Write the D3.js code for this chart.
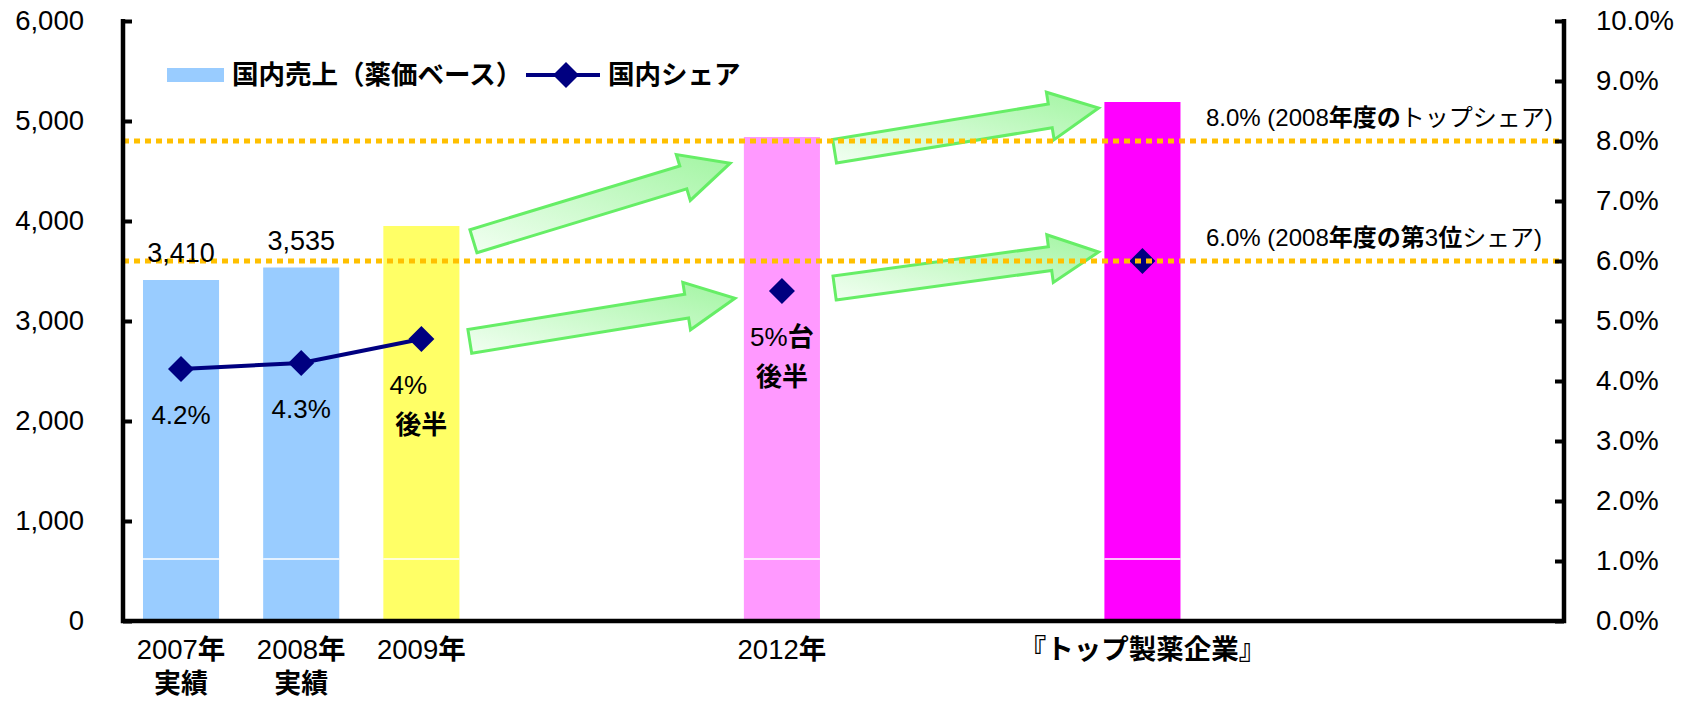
<!DOCTYPE html>
<html>
<head>
<meta charset="utf-8">
<script src="https://cdn.jsdelivr.net/npm/d3@7"></script>
<style>
body { margin: 0; background: #fff; }
text { font-family: "Liberation Sans", Arial, "Noto Sans CJK JP", sans-serif; fill: #000; }
</style>
</head>
<body>
<script>
(function(){

//chart values
var categories = ["2007年", "2008年", "2009年", "2012年", "『トップ製薬企業』"];
var subLabels = ["実績", "実績", "", "", ""];
var slotIndex = [0, 1, 2, 5, 8]; //position of each category among the 12 slots
var slotCount = 12;
var sales = [3410, 3535, 3950, 4840, 5190];
var salesLabels = ["3,410", "3,535", "", "", ""];
var barColors = ["#99CCFF", "#99CCFF", "#FFFF66", "#FF99FF", "#FF00FF"];
var share = [4.2, 4.3, 4.7, 5.5, 6.0];
var shareLabels = [["4.2%"], ["4.3%"], ["4%\u3000", "後半"], ["5%台", "後半"], []];
var linkedCount = 3; //only the first three points are joined
var salesTicks = [0, 1000, 2000, 3000, 4000, 5000, 6000];
var shareTicks = [0, 1, 2, 3, 4, 5, 6, 7, 8, 9, 10];
var splitValue = 620;
var refShare = [8.0, 6.0];
var refLabels = [
	[["8.0% (2008", false], ["年度の", true], ["トップシェア)", false]],
	[["6.0% (2008", false], ["年度の", true], ["第", true], ["3", false], ["位", true], ["シェア)", false]]
];
//arrows: [slot position, share %]
var arrows = [
	{from: [2.92, 6.33], to: [5.06, 7.63]},
	{from: [2.89, 4.66], to: [5.10, 5.38]},
	{from: [5.93, 7.83], to: [8.13, 8.55]},
	{from: [5.93, 5.55], to: [8.13, 6.15]}
];

var width = 1690, height = 701;
var left = 123, right = 1564, top = 21, bottom = 621;

var svg = d3.select("body").append("svg")
	.attr("width", width)
	.attr("height", height);

//scales
var x = d3.scaleBand()
	.domain(d3.range(slotCount))
	.range([121, 1563])
	.paddingInner(0.367)
	.paddingOuter(0.183);
var xSlot = d3.scaleLinear().domain([0, slotCount]).range([left, 1563]);
var y = d3.scaleLinear().domain([0, 6000]).range([bottom, top]);
var y2 = d3.scaleLinear().domain([0, 10]).range([bottom, top]);

function cx(i){ return x(slotIndex[i]) + x.bandwidth() / 2; }

//gradient for arrows
var grad = svg.append("defs").append("linearGradient")
	.attr("id", "arrowFill")
	.attr("x1", 0).attr("y1", 1).attr("x2", 1).attr("y2", 0);
grad.append("stop").attr("offset", "0%").attr("stop-color", "#f2fff2");
grad.append("stop").attr("offset", "100%").attr("stop-color", "#a2f5a2");

//bars
svg.selectAll(".bar")
	.data(sales)
	.enter()
	.append("rect")
	.attr("class", "bar")
	.attr("x", function(d, i){ return x(slotIndex[i]); })
	.attr("width", x.bandwidth())
	.attr("y", function(d){ return y(d); })
	.attr("height", function(d){ return y(0) - y(d); })
	.style("fill", function(d, i){ return barColors[i]; });

//thin white split line inside bars
svg.selectAll(".split")
	.data(sales)
	.enter()
	.append("line")
	.attr("x1", function(d, i){ return x(slotIndex[i]); })
	.attr("x2", function(d, i){ return x(slotIndex[i]) + x.bandwidth(); })
	.attr("y1", y(splitValue))
	.attr("y2", y(splitValue))
	.style("stroke", "#fff")
	.style("stroke-width", 1.5);

//arrows
function arrowPath(a){
	var t = [xSlot(a.from[0]), y2(a.from[1])],
		p = [xSlot(a.to[0]), y2(a.to[1])];
	var dx = p[0] - t[0], dy = p[1] - t[1], len = Math.sqrt(dx*dx + dy*dy);
	var ux = dx / len, uy = dy / len, nx = -uy, ny = ux;
	var sw = 12, hw = 24, hl = 49;
	var b = [p[0] - ux*hl, p[1] - uy*hl];
	var pts = [
		[t[0] + nx*sw, t[1] + ny*sw],
		[b[0] + nx*sw, b[1] + ny*sw],
		[b[0] + nx*hw, b[1] + ny*hw],
		p,
		[b[0] - nx*hw, b[1] - ny*hw],
		[b[0] - nx*sw, b[1] - ny*sw],
		[t[0] - nx*sw, t[1] - ny*sw]
	];
	return "M" + pts.map(function(q){ return q[0].toFixed(1) + "," + q[1].toFixed(1); }).join("L") + "Z";
}
svg.selectAll(".arrow")
	.data(arrows)
	.enter()
	.append("path")
	.attr("class", "arrow")
	.attr("d", arrowPath)
	.style("fill", "url(#arrowFill)")
	.style("stroke", "#66EE66")
	.style("stroke-width", 3)
	.style("stroke-linejoin", "miter");

//share line
var diamond = "M0,-13L13,0L0,13L-13,0Z";
var line = d3.line()
	.x(function(d, i){ return cx(i); })
	.y(function(d){ return y2(d); });
svg.append("path")
	.datum(share.slice(0, linkedCount))
	.attr("d", line)
	.style("fill", "none")
	.style("stroke", "#000080")
	.style("stroke-width", 4);
svg.selectAll(".marker")
	.data(share)
	.enter()
	.append("path")
	.attr("class", "marker")
	.attr("d", diamond)
	.attr("transform", function(d, i){ return "translate(" + cx(i) + "," + y2(d) + ")"; })
	.style("fill", "#000080");

//reference dotted lines
svg.selectAll(".ref")
	.data(refShare)
	.enter()
	.append("line")
	.attr("x1", left)
	.attr("x2", right)
	.attr("y1", function(d){ return y2(d); })
	.attr("y2", function(d){ return y2(d); })
	.style("stroke", "#FFC000")
	.style("stroke-width", 5)
	.style("stroke-dasharray", "6,5");

//mixed weight text helper: digits and signs regular, the rest bold
function mixed(sel, str, size){
	var parts = str.match(/[0-9.,% ()]+|[^0-9.,% ()]+/g) || [];
	parts.forEach(function(p){
		sel.append("tspan")
			.text(p)
			.style("font-weight", /[0-9]/.test(p) || /^[.,% ()]+$/.test(p) ? "normal" : "bold");
	});
	sel.style("font-size", size + "px");
}

//reference labels
svg.selectAll(".refLabel")
	.data(refShare)
	.enter()
	.append("text")
	.attr("class", "refLabel")
	.attr("x", 1206)
	.attr("y", function(d){ return y2(d) - 23; })
	.attr("dy", "0.35em")
	.style("font-size", "24px")
	.each(function(d, i){
		var t = d3.select(this);
		refLabels[i].forEach(function(seg){
			t.append("tspan").text(seg[0]).style("font-weight", seg[1] ? "bold" : "normal");
		});
	});

//sales value labels
svg.selectAll(".valLabel")
	.data(sales)
	.enter()
	.append("text")
	.attr("x", function(d, i){ return cx(i); })
	.attr("y", function(d){ return y(d) - 27; })
	.attr("dy", "0.35em")
	.attr("text-anchor", "middle")
	.style("font-size", "27px")
	.text(function(d, i){ return salesLabels[i]; });

//share labels
share.forEach(function(d, i){
	shareLabels[i].forEach(function(s, k){
		var t = svg.append("text")
			.attr("x", cx(i))
			.attr("y", y2(d) + 46 + k * 40)
			.attr("dy", "0.35em")
			.attr("text-anchor", "middle");
		mixed(t, s, 26);
	});
});

//axes
var yAxis = d3.axisLeft(y)
	.tickValues(salesTicks)
	.tickSize(-9)
	.tickPadding(39)
	.tickFormat(d3.format(","));
var gy = svg.append("g")
	.attr("transform", "translate(" + left + ",0)")
	.call(yAxis);
var y2Axis = d3.axisRight(y2)
	.tickValues(shareTicks)
	.tickSize(-9)
	.tickPadding(32)
	.tickFormat(function(d){ return d.toFixed(1) + "%"; });
var gy2 = svg.append("g")
	.attr("transform", "translate(" + right + ",0)")
	.call(y2Axis);
[gy, gy2].forEach(function(g){
	g.select(".domain").remove();
	g.selectAll(".tick line").style("stroke", "#000").style("stroke-width", 4);
	g.selectAll(".tick text")
		.style("font-size", "27.5px")
		.style("font-family", "'Liberation Sans', Arial, sans-serif")
		.attr("fill", "#000");
});

//axis lines
svg.append("path")
	.attr("d", "M" + left + "," + (top - 2) + "V" + bottom + "H" + right + "V" + (top - 2))
	.style("fill", "none")
	.style("stroke", "#000")
	.style("stroke-width", 4.5);

//category labels
categories.forEach(function(c, i){
	var t1 = svg.append("text")
		.attr("x", cx(i))
		.attr("y", 649)
		.attr("dy", "0.35em")
		.attr("text-anchor", "middle");
	mixed(t1, c, 27.5);
	if (subLabels[i]){
		var t2 = svg.append("text")
			.attr("x", cx(i))
			.attr("y", 684)
			.attr("dy", "0.35em")
			.attr("text-anchor", "middle");
		mixed(t2, subLabels[i], 27);
	}
});

//legend
var legend = svg.append("g");
legend.append("rect")
	.attr("x", 167).attr("y", 68)
	.attr("width", 57).attr("height", 14)
	.style("fill", barColors[0]);
legend.append("text")
	.attr("x", 232).attr("y", 75).attr("dy", "0.35em")
	.style("font-size", "26.5px").style("font-weight", "bold")
	.text("国内売上（薬価ベース）");
legend.append("line")
	.attr("x1", 526).attr("x2", 600).attr("y1", 75).attr("y2", 75)
	.style("stroke", "#000080").style("stroke-width", 4);
legend.append("path")
	.attr("d", diamond)
	.attr("transform", "translate(566,75)")
	.style("fill", "#000080");
legend.append("text")
	.attr("x", 608).attr("y", 75).attr("dy", "0.35em")
	.style("font-size", "26.5px").style("font-weight", "bold")
	.text("国内シェア");

})();
</script>
</body>
</html>
